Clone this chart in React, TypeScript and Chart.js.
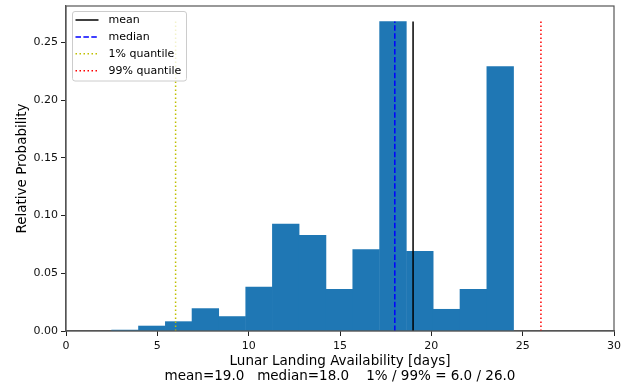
import React, { useEffect, useRef } from 'react';
import { Chart, registerables } from 'chart.js';

Chart.register(...registerables);

// ---- data ----
const binCenters = [3.23, 4.7, 6.17, 7.63, 9.1, 10.57, 12.03, 13.5, 14.97, 16.43, 17.9, 19.37, 20.83, 22.3, 23.77];
const binProbabilities = [0.0008, 0.0043, 0.0081, 0.0194, 0.0125, 0.0381, 0.0926, 0.0829, 0.0361, 0.0705, 0.268, 0.069, 0.0188, 0.036, 0.229];

const statNames = ['mean', 'median', '1% quantile', '99% quantile'];
const statValues = [19.0, 18.0, 6.0, 26.0];
const statColors = ['#000000', '#0000ff', '#bfbf00', '#ff0000'];
const statDashes: number[][] = [[], [5.5, 2.4], [1.5, 2.5], [1.5, 2.5]];

const xTickValues = [0, 5, 10, 15, 20, 25, 30];
const yTickValues = [0, 0.05, 0.1, 0.15, 0.2, 0.25];
const xRange = [0, 30];
const yRange = [0, 0.2814];

const xAxisLabel = 'Lunar Landing Availability [days]';
const summaryLabel = 'mean=19.0   median=18.0    1% / 99% = 6.0 / 26.0';
const yAxisLabel = 'Relative Probability';

const FONT = "'DejaVu Sans', sans-serif";
const BAR_COLOR = '#1f77b4';

const decorPlugin = {
  id: 'decor',
  afterDraw(chart: any) {
    const ctx = chart.ctx as CanvasRenderingContext2D;
    const a = chart.chartArea;
    ctx.save();
    // frame
    ctx.strokeStyle = '#555555';
    ctx.lineWidth = 1.2;
    ctx.setLineDash([]);
    ctx.strokeRect(a.left, a.top, a.right - a.left, a.bottom - a.top);

    // legend
    const lx = a.left + 6.5;
    const ly = a.top + 5.5;
    const lw = 114;
    const lh = 69.5;
    ctx.beginPath();
    const r = 2.5;
    ctx.moveTo(lx + r, ly);
    ctx.lineTo(lx + lw - r, ly);
    ctx.quadraticCurveTo(lx + lw, ly, lx + lw, ly + r);
    ctx.lineTo(lx + lw, ly + lh - r);
    ctx.quadraticCurveTo(lx + lw, ly + lh, lx + lw - r, ly + lh);
    ctx.lineTo(lx + r, ly + lh);
    ctx.quadraticCurveTo(lx, ly + lh, lx, ly + lh - r);
    ctx.lineTo(lx, ly + r);
    ctx.quadraticCurveTo(lx, ly, lx + r, ly);
    ctx.closePath();
    ctx.fillStyle = 'rgba(255,255,255,0.8)';
    ctx.fill();
    ctx.strokeStyle = '#cccccc';
    ctx.lineWidth = 1;
    ctx.stroke();

    ctx.font = `11px ${FONT}`;
    ctx.textBaseline = 'middle';
    ctx.textAlign = 'left';
    statNames.forEach((name, i) => {
      const y = ly + 8.5 + i * 16.9;
      ctx.beginPath();
      ctx.setLineDash(statDashes[i]);
      ctx.strokeStyle = statColors[i];
      ctx.lineWidth = 1.5;
      ctx.moveTo(lx + 3, y);
      ctx.lineTo(lx + 26, y);
      ctx.stroke();
      ctx.setLineDash([]);
      ctx.fillStyle = '#000000';
      ctx.fillText(name, lx + 36, y + 0.5);
    });

    // axis titles
    const cx = (a.left + a.right) / 2;
    ctx.fillStyle = '#000000';
    ctx.font = `13.5px ${FONT}`;
    ctx.textAlign = 'center';
    ctx.textBaseline = 'alphabetic';
    ctx.fillText(xAxisLabel, cx, 365);
    ctx.fillText(summaryLabel, cx, 380);

    ctx.translate(26, (a.top + a.bottom) / 2);
    ctx.rotate(-Math.PI / 2);
    ctx.fillText(yAxisLabel, 0, 0);
    ctx.restore();
  },
};

export default function App() {
  const canvasRef = useRef<HTMLCanvasElement | null>(null);

  useEffect(() => {
    if (!canvasRef.current) return;
    const lineTop = Math.max(...binProbabilities);
    const datasets: any[] = statNames.map((name, i) => ({
      type: 'line',
      label: name,
      data: [
        { x: statValues[i], y: 0 },
        { x: statValues[i], y: lineTop },
      ],
      borderColor: statColors[i],
      borderWidth: 1.5,
      borderDash: statDashes[i],
      pointRadius: 0,
      fill: false,
      order: 0,
    }));
    datasets.push({
      type: 'bar',
      label: 'histogram',
      data: binCenters.map((x, i) => ({ x, y: binProbabilities[i] })),
      backgroundColor: BAR_COLOR,
      borderWidth: 0,
      barPercentage: 1,
      categoryPercentage: 1,
      order: 1,
    });

    const chart = new Chart(canvasRef.current, {
      type: 'bar',
      data: { datasets },
      options: {
        animation: false,
        responsive: true,
        maintainAspectRatio: false,
        events: [],
        layout: { padding: { top: 6, right: 14, left: 0, bottom: 0 } },
        plugins: { legend: { display: false }, tooltip: { enabled: false } },
        scales: {
          x: {
            type: 'linear',
            min: xRange[0],
            max: xRange[1],
            offset: false,
            afterFit: (s: any) => { s.height = 56; s.paddingLeft = 0; s.paddingRight = 0; },
            afterBuildTicks: (s: any) => { s.ticks = xTickValues.map((value) => ({ value })); },
            grid: { display: true, offset: false, drawOnChartArea: false, drawTicks: true, tickLength: 5, tickColor: '#222', tickWidth: 1 },
            border: { display: true, color: '#555555', width: 1.2 },
            ticks: {
              autoSkip: false,
              maxRotation: 0,
              padding: 4,
              color: '#111',
              font: { family: FONT, size: 11 },
              callback: (v: any) => String(v),
            },
          },
          y: {
            type: 'linear',
            min: yRange[0],
            max: yRange[1],
            afterFit: (s: any) => { s.width = 66; s.paddingTop = 0; s.paddingBottom = 0; },
            afterBuildTicks: (s: any) => { s.ticks = yTickValues.map((value) => ({ value })); },
            grid: { display: true, offset: false, drawOnChartArea: false, drawTicks: true, tickLength: 5, tickColor: '#222', tickWidth: 1 },
            border: { display: true, color: '#555555', width: 1.2 },
            ticks: {
              autoSkip: false,
              padding: 3,
              color: '#111',
              font: { family: FONT, size: 11 },
              callback: (v: any) => Number(v).toFixed(2),
            },
          },
        },
      },
      plugins: [decorPlugin],
    } as any);
    return () => chart.destroy();
  }, []);

  return (
    <div style={{ position: 'fixed', left: 0, top: 0, width: 628, height: 387, background: '#fff' }}>
      <canvas ref={canvasRef} />
    </div>
  );
}
